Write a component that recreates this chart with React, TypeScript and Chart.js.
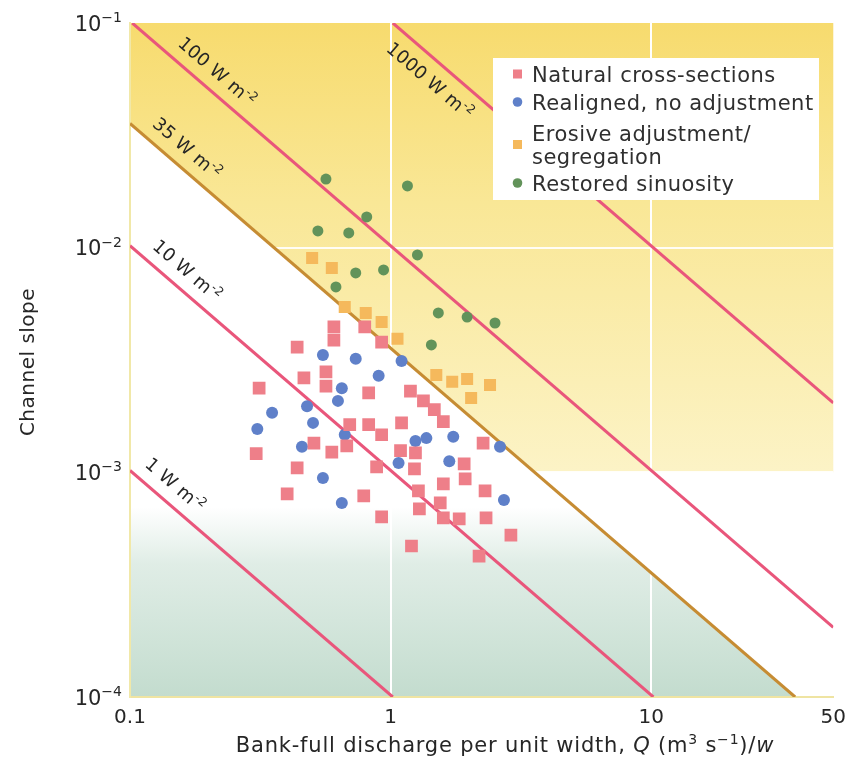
import React, { useEffect, useRef } from "react";
import { Chart, registerables } from "chart.js";

Chart.register(...registerables);

const FONT = '"DejaVu Sans", "Noto Sans", sans-serif';

// ---- Axis ticks ----
const X_TICKS = [0.1, 1, 10, 50];
const X_TICK_LABELS = ["0.1", "1", "10", "50"];
const Y_TICKS = [0.0001, 0.001, 0.01, 0.1];
const Y_TICK_BASE = "10";
const Y_TICK_EXP = ["−4", "−3", "−2", "−1"];

// ---- Series: bank-full discharge per unit width (Q/w) and channel slope ----
const NATURAL_Q = [0.606, 0.606, 0.796, 0.924, 0.438, 0.565, 0.565, 0.465, 0.313, 0.824, 1.192, 1.337, 1.472, 1.594, 1.102, 0.697, 0.824, 0.924, 0.508, 0.595, 0.679, 0.305, 1.092, 1.246, 2.265, 0.438, 0.884, 1.235, 1.916, 1.933, 1.594, 1.279, 2.305, 0.401, 0.789, 1.551, 1.29, 1.594, 1.834, 2.325, 0.924, 2.896, 1.203, 2.186];
const NATURAL_S = [0.00444, 0.00388, 0.00444, 0.0038, 0.00361, 0.0028, 0.00242, 0.00263, 0.00237, 0.00226, 0.0023, 0.00208, 0.0019, 0.00168, 0.00166, 0.00163, 0.00163, 0.00147, 0.00135, 0.00123, 0.00131, 0.00121, 0.00125, 0.00122, 0.00135, 0.001046, 0.001057, 0.001035, 0.00109, 0.000935, 0.000888, 0.000827, 0.000827, 0.000801, 0.000785, 0.000731, 0.000687, 0.000627, 0.00062, 0.000627, 0.000633, 0.000526, 0.00047, 0.000424];

const REALIGNED_Q = [0.55, 0.735, 1.102, 0.9, 0.65, 0.628, 0.478, 0.351, 0.504, 0.308, 0.667, 1.246, 1.372, 1.74, 2.63, 0.457, 1.073, 1.68, 0.55, 2.723, 0.65];
const REALIGNED_S = [0.00333, 0.0032, 0.00313, 0.00269, 0.00237, 0.00208, 0.00197, 0.00184, 0.00166, 0.00156, 0.00147, 0.00138, 0.00142, 0.00144, 0.0013, 0.0013, 0.0011, 0.00112, 0.000944, 0.000754, 0.000731];

const EROSIVE_Q = [0.5, 0.595, 0.667, 0.803, 0.924, 1.063, 1.498, 1.724, 1.967, 2.408, 2.038];
const EROSIVE_S = [0.009, 0.00812, 0.00545, 0.00512, 0.00467, 0.00393, 0.00271, 0.00253, 0.0026, 0.00245, 0.00214];

const RESTORED_Q = [0.565, 1.161, 0.81, 0.526, 0.691, 1.268, 0.735, 0.94, 0.617, 1.525, 1.967, 2.516, 1.434];
const RESTORED_S = [0.0202, 0.01882, 0.0137, 0.01187, 0.01163, 0.00928, 0.00772, 0.00796, 0.00669, 0.00512, 0.00491, 0.00462, 0.00369];

// ---- Stream-power lines (W m^-2): end points inside the frame ----
const POWER_LABELS = ["1", "10", "35", "100", "1000"];
const POWER_LINE_Q = [[0.1, 1.02], [0.1, 10.2], [0.1, 35.7], [0.102, 50], [1.02, 50]];
const POWER_LINE_S = [[0.00102, 0.0001], [0.0102, 0.0001], [0.0357, 0.0001], [0.1, 0.000204], [0.1, 0.00204]];

// label placement along each line (Q where the label sits, side: 1 above, -1 below)
const POWER_LABEL_Q = [0.134, 0.149, 0.149, 0.194, 1.585];
const POWER_LABEL_SIDE = [1, 1, 1, 1, -1];

const YELLOW_FLOOR_S = 0.001;

const LEGEND_LABELS = [["Natural cross-sections"], ["Realigned, no adjustment"], ["Erosive adjustment/", "segregation"], ["Restored sinuosity"]];

const COLORS = {
  natural: "#ee7f89",
  realigned: "#5f80c9",
  erosive: "#f5b95c",
  restored: "#62935a",
  power: "#e9567b",
  power35: "#c68c33",
  text: "#262626",
};

const zip = (xs: number[], ys: number[]) => xs.map((x, i) => ({ x, y: ys[i] }));

type Run = { t: string; sup?: boolean; it?: boolean };

function drawRuns(
  ctx: CanvasRenderingContext2D,
  runs: Run[],
  x: number,
  y: number,
  size: number,
  align: "left" | "center" | "right",
  spacing = 0
) {
  const c: any = ctx;
  const prevSpacing = c.letterSpacing;
  c.letterSpacing = `${spacing}px`;
  const fontFor = (r: Run) => `${r.it ? "italic " : ""}${r.sup ? Math.round(size * 0.66) : size}px ${FONT}`;
  let w = 0;
  for (const r of runs) {
    ctx.font = fontFor(r);
    w += ctx.measureText(r.t).width;
  }
  let cx = align === "center" ? x - w / 2 : align === "right" ? x - w : x;
  ctx.textAlign = "left";
  ctx.textBaseline = "alphabetic";
  for (const r of runs) {
    ctx.font = fontFor(r);
    ctx.fillText(r.t, cx, r.sup ? y - size * 0.4 : y);
    cx += ctx.measureText(r.t).width;
  }
  c.letterSpacing = prevSpacing || "0px";
}

const bgPlugin = {
  id: "bgRegions",
  beforeDraw(chart: any) {
    const { ctx, chartArea: a, scales } = chart;
    const x = scales.x, y = scales.y;
    const i35 = POWER_LABELS.indexOf("35");
    const p0 = { x: x.getPixelForValue(POWER_LINE_Q[i35][0]), y: y.getPixelForValue(POWER_LINE_S[i35][0]) };
    const p1 = { x: x.getPixelForValue(POWER_LINE_Q[i35][1]), y: y.getPixelForValue(POWER_LINE_S[i35][1]) };
    const yb = y.getPixelForValue(YELLOW_FLOOR_S);
    const t = (yb - p0.y) / (p1.y - p0.y);
    const xi = p0.x + t * (p1.x - p0.x);
    ctx.save();
    ctx.beginPath();
    ctx.rect(a.left, a.top, a.right - a.left, a.bottom - a.top);
    ctx.clip();
    ctx.fillStyle = "#ffffff";
    ctx.fillRect(a.left, a.top, a.right - a.left, a.bottom - a.top);
    // yellow region above the 35 W line
    const gy = ctx.createLinearGradient(0, a.top, 0, yb);
    gy.addColorStop(0, "rgb(247,219,110)");
    gy.addColorStop(0.4, "rgb(249,231,150)");
    gy.addColorStop(1, "rgb(252,243,198)");
    ctx.fillStyle = gy;
    ctx.beginPath();
    ctx.moveTo(a.left, a.top);
    ctx.lineTo(a.right + 2, a.top);
    ctx.lineTo(a.right + 2, yb);
    ctx.lineTo(xi, yb);
    ctx.lineTo(p0.x, p0.y);
    ctx.closePath();
    ctx.fill();
    // green-grey region below the 35 W line
    const gg = ctx.createLinearGradient(0, a.bottom - 190, 0, a.bottom);
    gg.addColorStop(0, "rgba(198,222,209,0)");
    gg.addColorStop(0.3, "rgba(198,222,209,0.55)");
    gg.addColorStop(1, "rgba(195,220,206,1)");
    ctx.fillStyle = gg;
    ctx.beginPath();
    ctx.moveTo(p0.x, p0.y);
    ctx.lineTo(p1.x, p1.y);
    ctx.lineTo(a.left, a.bottom);
    ctx.closePath();
    ctx.fill();
    ctx.restore();
  },
};

const textPlugin = {
  id: "texts",
  afterDatasetsDraw(chart: any) {
    const { ctx, scales } = chart;
    const x = scales.x, y = scales.y;
    ctx.save();
    ctx.fillStyle = COLORS.text;
    // labels along power lines
    POWER_LABELS.forEach((p, i) => {
      const ax = x.getPixelForValue(POWER_LINE_Q[i][0]);
      const ay = y.getPixelForValue(POWER_LINE_S[i][0]);
      const bx = x.getPixelForValue(POWER_LINE_Q[i][1]);
      const by = y.getPixelForValue(POWER_LINE_S[i][1]);
      const th = Math.atan2(by - ay, bx - ax);
      const px = x.getPixelForValue(POWER_LABEL_Q[i]);
      const py = ay + ((px - ax) / (bx - ax)) * (by - ay);
      const d = 19 * POWER_LABEL_SIDE[i];
      const cx = px + d * Math.sin(th);
      const cy = py - d * Math.cos(th);
      ctx.save();
      ctx.translate(cx, cy);
      ctx.rotate(th);
      ctx.fillStyle = COLORS.text;
      drawRuns(ctx, [{ t: `${p} W m` }, { t: "-2", sup: true }], 0, 18 * 0.36, 18, "center", 0.3);
      ctx.restore();
    });
    // legend box
    const lx = 493, ly = 58, lw = 326, lh = 142;
    ctx.fillStyle = "#ffffff";
    ctx.fillRect(lx, ly, lw, lh);
    const rows = [[74], [102], [133, 156], [183]];
    const marks = [
      { c: COLORS.natural, sq: true },
      { c: COLORS.realigned, sq: false },
      { c: COLORS.erosive, sq: true },
      { c: COLORS.restored, sq: false },
    ];
    LEGEND_LABELS.forEach((lines, i) => {
      const ys = rows[i];
      const my = (ys[0] + ys[ys.length - 1]) / 2;
      ctx.fillStyle = marks[i].c;
      if (marks[i].sq) ctx.fillRect(513, my - 4.5, 9, 9);
      else {
        ctx.beginPath();
        ctx.arc(517.5, my, 4.8, 0, Math.PI * 2);
        ctx.fill();
      }
      ctx.fillStyle = "#2f2f2f";
      lines.forEach((s, j) => {
        drawRuns(ctx, [{ t: s }], 532, ys[j] + 21 * 0.36, 21, "left", 0.5);
      });
    });
    ctx.restore();
  },
  afterDraw(chart: any) {
    const { ctx, scales, chartArea: a } = chart;
    const y = scales.y;
    ctx.save();
    ctx.fillStyle = COLORS.text;
    // y tick labels with superscript exponents
    Y_TICKS.forEach((v, i) => {
      const py = y.getPixelForValue(v);
      drawRuns(ctx, [{ t: Y_TICK_BASE }, { t: Y_TICK_EXP[i], sup: true }], a.left - 8, py + 21 * 0.36, 21, "right");
    });
    // x axis title
    drawRuns(
      ctx,
      [
        { t: "Bank-full discharge per unit width, " },
        { t: "Q", it: true },
        { t: " (m" },
        { t: "3", sup: true },
        { t: " s" },
        { t: "−1", sup: true },
        { t: ")/" },
        { t: "w", it: true },
      ],
      505,
      752,
      21,
      "center",
      0.8
    );
    // y axis title
    ctx.save();
    ctx.translate(34, 362);
    ctx.rotate(-Math.PI / 2);
    drawRuns(ctx, [{ t: "Channel slope" }], 0, 0, 20, "center", 0.5);
    ctx.restore();
    ctx.restore();
  },
};

export default function App() {
  const ref = useRef<HTMLCanvasElement>(null);
  useEffect(() => {
    const lineSets = POWER_LABELS.map((p, i) => ({
      label: `${p} W m-2`,
      data: zip(POWER_LINE_Q[i], POWER_LINE_S[i]),
      showLine: true,
      borderColor: p === "35" ? COLORS.power35 : COLORS.power,
      borderWidth: 3,
      pointRadius: 0,
      fill: false,
      order: 10,
    }));
    const chart = new Chart(ref.current as HTMLCanvasElement, {
      type: "scatter",
      data: {
        datasets: [
          { label: "Natural cross-sections", data: zip(NATURAL_Q, NATURAL_S), pointStyle: "rect", pointRadius: 9, backgroundColor: COLORS.natural, borderWidth: 0, order: 1 },
          { label: "Realigned, no adjustment", data: zip(REALIGNED_Q, REALIGNED_S), pointStyle: "circle", pointRadius: 6, backgroundColor: COLORS.realigned, borderWidth: 0, order: 1 },
          { label: "Erosive adjustment/segregation", data: zip(EROSIVE_Q, EROSIVE_S), pointStyle: "rect", pointRadius: 8.5, backgroundColor: COLORS.erosive, borderWidth: 0, order: 1 },
          { label: "Restored sinuosity", data: zip(RESTORED_Q, RESTORED_S), pointStyle: "circle", pointRadius: 5.5, backgroundColor: COLORS.restored, borderWidth: 0, order: 1 },
          ...lineSets,
        ] as any,
      },
      options: {
        responsive: false,
        maintainAspectRatio: false,
        animation: false,
        events: [],
        layout: { padding: { top: 23, right: 18, left: 0, bottom: 0 } },
        plugins: { legend: { display: false }, tooltip: { enabled: false } },
        scales: {
          x: {
            type: "logarithmic",
            min: 0.1,
            max: 50,
            afterBuildTicks: (s: any) => {
              s.ticks = X_TICKS.map((v) => ({ value: v }));
            },
            afterFit: (s: any) => {
              s.height = 74;
            },
            ticks: {
              callback: (_v: any, i: number) => X_TICK_LABELS[i],
              font: { family: FONT, size: 20 },
              color: COLORS.text,
              padding: 9,
              maxRotation: 0,
              autoSkip: false,
            },
            grid: {
              color: (c: any) => (c.tick && (c.tick.value === 1 || c.tick.value === 10) ? "#ffffff" : "rgba(0,0,0,0)"),
              lineWidth: 2,
              drawTicks: false,
            },
            border: { display: true, color: "#efe4a2", width: 2 },
          },
          y: {
            type: "logarithmic",
            min: 0.0001,
            max: 0.1,
            afterBuildTicks: (s: any) => {
              s.ticks = Y_TICKS.map((v) => ({ value: v }));
            },
            afterFit: (s: any) => {
              s.width = 130;
            },
            ticks: { display: false },
            grid: {
              color: (c: any) => (c.tick && (c.tick.value === 0.01 || c.tick.value === 0.001) ? "rgba(255,255,255,0.9)" : "rgba(0,0,0,0)"),
              lineWidth: 2,
              drawTicks: false,
            },
            border: { display: true, color: "#f1e8a8", width: 2 },
          },
        },
      } as any,
      plugins: [bgPlugin, textPlugin],
    });
    return () => chart.destroy();
  }, []);
  return (
    <div style={{ position: "absolute", left: 0, top: 0, width: 855, height: 771, background: "#ffffff" }}>
      <canvas ref={ref} width={855} height={771} style={{ display: "block" }} />
    </div>
  );
}
